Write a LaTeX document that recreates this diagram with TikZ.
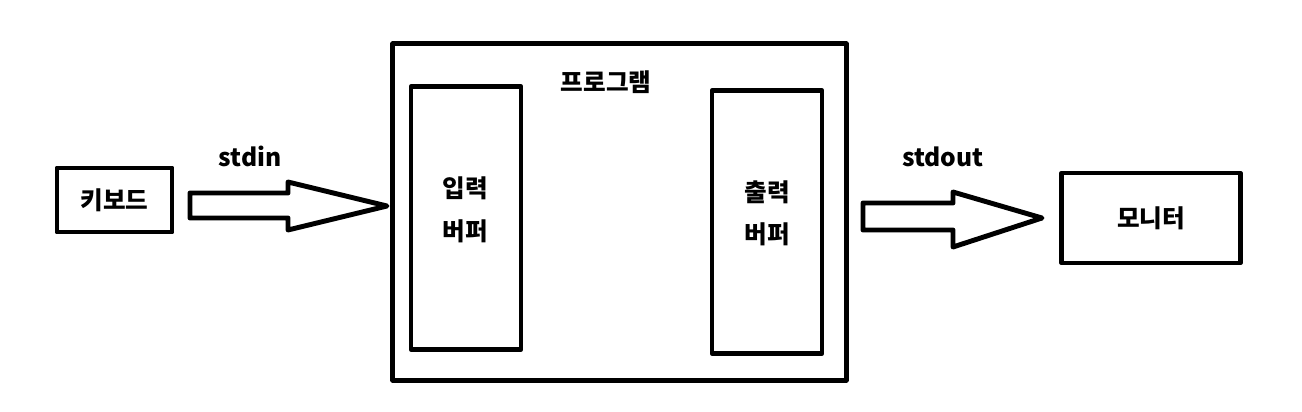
\documentclass[tikz,border=0pt]{standalone}
\usepackage{fontspec}
\setmainfont{Noto Sans CJK KR}
\usetikzlibrary{calc}
\tikzset{
  box/.style={draw=black, line width=1.4pt, line join=round, inner sep=0pt},
  lab/.style={font=\fontsize{7}{8.5}\selectfont\bfseries, inner sep=0pt},
  blk/.style={draw=black, line width=1.4pt, line join=round, line cap=round},
}
\begin{document}
\begin{tikzpicture}[x=0.01cm,y=-0.01cm]
  \useasboundingbox (0,0) rectangle (1302,412);
  % outer devices
  \node[box, lab, minimum width=1.15cm, minimum height=0.64cm] (kbd) at (114.5,200) {키보드};
  \node[box, lab, minimum width=1.78cm, minimum height=0.90cm] (mon) at (1151,218) {모니터};
  % program and its buffers
  \node[box, minimum width=4.53cm, minimum height=3.36cm] (prog) at (619.5,212) {};
  \node[lab] (progLbl) at (606,82) {프로그램};
  \node[box, minimum width=1.10cm, minimum height=2.62cm] (inBuf) at (466,218) {};
  \node[box, minimum width=1.10cm, minimum height=2.62cm] (outBuf) at (767,222) {};
  \node[lab] (inLbl1) at (465,188) {입력};
  \node[lab] (inLbl2) at (465,231) {버퍼};
  \node[lab] (outLbl1) at (767,192) {출력};
  \node[lab] (outLbl2) at (767,234) {버퍼};
  % block arrows
  \coordinate (inTail) at (190,205.5);
  \coordinate (inTip) at (387,206);
  \draw[blk] ($(inTail)+(0,-12.5)$) -- ($(inTail)+(98,-12.5)$) -- ($(inTail)+(98,-23.5)$)
    -- (inTip) -- ($(inTail)+(98,24.5)$) -- ($(inTail)+(98,12.5)$) -- ($(inTail)+(0,12.5)$) -- cycle;
  \node[lab] (inArr) at (250,156) {stdin};
  \coordinate (outTail) at (863,216.5);
  \coordinate (outTip) at (1042,218);
  \draw[blk] ($(outTail)+(0,-13.5)$) -- ($(outTail)+(90,-13.5)$) -- ($(outTail)+(90,-24.5)$)
    -- (outTip) -- ($(outTail)+(90,30.5)$) -- ($(outTail)+(90,13.5)$) -- ($(outTail)+(0,13.5)$) -- cycle;
  \node[lab] (outArr) at (943,157) {stdout};
\end{tikzpicture}
\end{document}
